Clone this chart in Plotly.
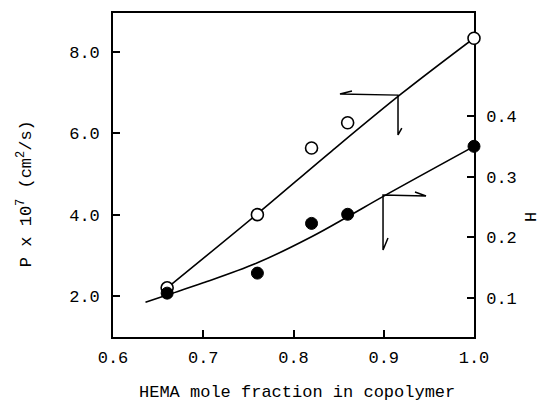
import plotly.graph_objects as go

# ---- data ----
hema_frac = [0.66, 0.76, 0.82, 0.86, 1.0]
p_values = [2.20, 4.00, 5.64, 6.26, 8.34]        # P x 10^7 (cm^2/s), open circles, left axis
h_values = [0.108, 0.141, 0.223, 0.238, 0.350]   # H, filled circles, right axis

p_fit_x = [0.66, 0.76, 0.84, 0.92, 1.0]
p_fit_y = [2.20, 4.02, 5.52, 6.98, 8.34]
h_fit_x = [0.636, 0.66, 0.70, 0.76, 0.82, 0.86, 0.90, 1.0]
h_fit_y = [0.093, 0.105, 0.125, 0.158, 0.201, 0.234, 0.268, 0.350]

x_ticks = [0.6, 0.7, 0.8, 0.9, 1.0]
x_ticklabels = ["0.6", "0.7", "0.8", "0.9", "1.0"]
p_ticks = [2, 4, 6, 8]
p_ticklabels = ["2.0", "4.0", "6.0", "8.0"]
h_ticks = [0.1, 0.2, 0.3, 0.4]
h_ticklabels = ["0.1", "0.2", "0.3", "0.4"]

FONT = "Liberation Mono"
FS = 17

fig = go.Figure()

fig.add_trace(go.Scatter(x=h_fit_x, y=h_fit_y, mode="lines", yaxis="y2",
                         line=dict(color="black", width=1.6, shape="spline", smoothing=1.0),
                         hoverinfo="skip", showlegend=False))
fig.add_trace(go.Scatter(x=hema_frac, y=h_values, mode="markers", yaxis="y2",
                         marker=dict(symbol="circle", size=12, color="black",
                                     line=dict(color="black", width=1)),
                         cliponaxis=False, showlegend=False))
fig.add_trace(go.Scatter(x=p_fit_x, y=p_fit_y, mode="lines", yaxis="y",
                         line=dict(color="black", width=1.6, shape="spline", smoothing=1.0),
                         hoverinfo="skip", showlegend=False))
fig.add_trace(go.Scatter(x=hema_frac, y=p_values, mode="markers", yaxis="y",
                         marker=dict(symbol="circle", size=12, color="white",
                                     line=dict(color="black", width=1.6)),
                         cliponaxis=False, showlegend=False))

# direction arrows (which axis each curve belongs to)
upper_arrow = [(0.8648, 7.04), (0.8515, 6.97), (0.9158, 6.94), (0.9158, 5.96), (0.920, 6.13)]
lower_arrow = [(0.9346, 0.2747), (0.9468, 0.2681), (0.8992, 0.2698), (0.8992, 0.1791), (0.9047, 0.1989)]

def path_of(pts):
    return "M " + " L ".join(f"{x},{y}" for x, y in pts)

fig.add_shape(type="path", path=path_of(upper_arrow), xref="x", yref="y",
              line=dict(color="black", width=1.5))
fig.add_shape(type="path", path=path_of(lower_arrow), xref="x", yref="y2",
              line=dict(color="black", width=1.5))

axis_common = dict(showgrid=False, zeroline=False, showline=True, linecolor="black",
                   linewidth=1.6, ticks="inside", ticklen=7, tickwidth=1.5,
                   tickcolor="black", tickfont=dict(family=FONT, size=FS, color="black"),
                   layer="below traces")

fig.update_layout(
    width=541, height=401,
    margin=dict(l=113, r=67, t=13, b=64, pad=0),
    paper_bgcolor="white", plot_bgcolor="white",
    xaxis=dict(range=[0.6, 1.0], tickvals=x_ticks, ticktext=x_ticklabels,
               mirror=True, ticklabelstandoff=4, **axis_common),
    yaxis=dict(range=[0.99, 8.96], tickvals=p_ticks, ticktext=p_ticklabels,
               mirror=True, ticklabelstandoff=8, **axis_common),
    yaxis2=dict(range=[0.0357, 0.5698], tickvals=h_ticks, ticktext=h_ticklabels,
                overlaying="y", side="right", ticklabelstandoff=7, **axis_common),
    annotations=[
        dict(text="P x 10<sup>7</sup> (cm<sup>2</sup>/s)", xref="paper", yref="paper",
             x=-0.2438, y=0.444, textangle=-90, showarrow=False,
             xanchor="center", yanchor="middle",
             font=dict(family=FONT, size=FS, color="black")),
        dict(text="HEMA mole fraction in copolymer", xref="paper", yref="paper",
             x=0.511, y=-0.1728, showarrow=False, xanchor="center", yanchor="middle",
             font=dict(family=FONT, size=FS, color="black")),
        dict(text="H", xref="paper", yref="paper", x=1.1579, y=0.370, textangle=-90,
             showarrow=False, xanchor="center", yanchor="middle", borderpad=0,
             font=dict(family=FONT, size=FS, color="black")),
    ],
)

fig.write_html("out.html")
